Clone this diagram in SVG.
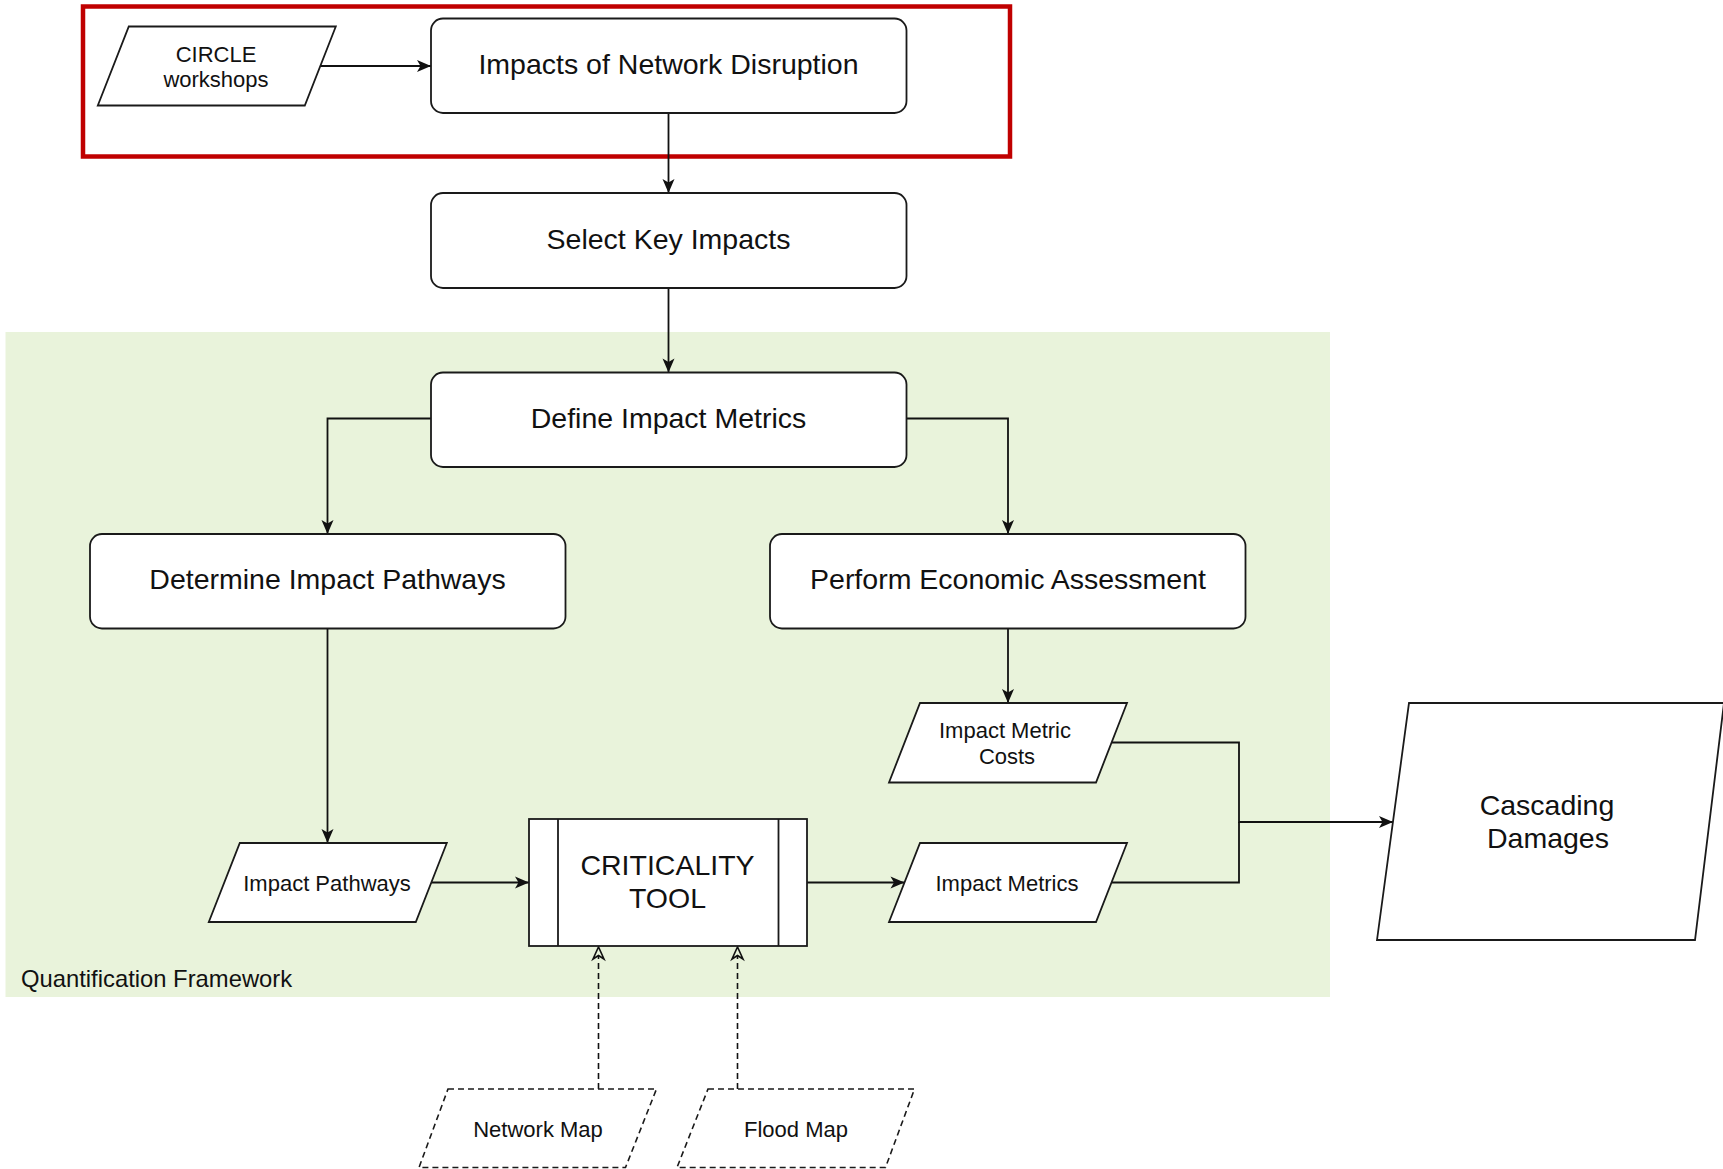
<svg xmlns="http://www.w3.org/2000/svg" width="1723" height="1169" viewBox="0 0 1723 1169">
<style>
.box{fill:#ffffff;stroke:#1a1a1a;stroke-width:1.8}
.dash{fill:#ffffff;stroke:#1a1a1a;stroke-width:1.6;stroke-dasharray:6 4}
.big{font-family:"Liberation Sans",Arial,sans-serif;font-size:28.5px;fill:#111111;text-anchor:middle}
.small{font-family:"Liberation Sans",Arial,sans-serif;font-size:22px;fill:#111111;text-anchor:middle}
.edge{fill:none;stroke:#111111;stroke-width:1.8}
.dedge{fill:none;stroke:#111111;stroke-width:1.6;stroke-dasharray:6 4}
</style>
<defs>
<marker id="arr" markerUnits="userSpaceOnUse" markerWidth="18" markerHeight="16" refX="14" refY="6" orient="auto" overflow="visible">
<path d="M0,0 L14,6 L0,12 L3.5,6 Z" fill="#111111" stroke="none"/>
</marker>
<marker id="open" markerUnits="userSpaceOnUse" markerWidth="16" markerHeight="14" refX="3.5" refY="5.5" orient="auto" overflow="visible">
<path d="M0,0 L12,5.5 L0,11 L3.5,5.5 Z" fill="none" stroke="#111111" stroke-width="1.6"/>
</marker>
</defs>
<rect x="0" y="0" width="1723" height="1169" fill="#ffffff"/>
<g id="quantification-framework">
<rect x="5.5" y="332" width="1324.5" height="665" fill="#e9f3db"/>
<text x="21" y="987" font-family="'Liberation Sans',Arial,sans-serif" font-size="23.8" fill="#111111">Quantification Framework</text>
</g>
<g id="highlight">
<rect x="83" y="6.5" width="927" height="150" fill="none" stroke="#c00000" stroke-width="4.5"/>
</g>
<g id="connectors">
<path class="edge" d="M320,66 H431" marker-end="url(#arr)"/>
<path class="edge" d="M668.5,113 V193" marker-end="url(#arr)"/>
<path class="edge" d="M668.5,288 V372.5" marker-end="url(#arr)"/>
<path class="edge" d="M431,418.5 H327.5 V534" marker-end="url(#arr)"/>
<path class="edge" d="M907,418.5 H1008 V534" marker-end="url(#arr)"/>
<path class="edge" d="M1008,628.5 V703" marker-end="url(#arr)"/>
<path class="edge" d="M327.5,628.5 V843" marker-end="url(#arr)"/>
<path class="edge" d="M431.3,882.5 H529" marker-end="url(#arr)"/>
<path class="edge" d="M807,882.5 H904.5" marker-end="url(#arr)"/>
<path class="edge" d="M1111.5,742.5 H1239 V822 H1393" marker-end="url(#arr)"/>
<path class="edge" d="M1111.5,882.5 H1239 V822"/>
<path class="dedge" d="M598.5,1089 V955.5" marker-end="url(#open)"/>
<path class="dedge" d="M737.5,1089 V955.5" marker-end="url(#open)"/>
</g>
<g id="circle-workshops">
<polygon class="box" points="128.8,26.5 335.8,26.5 304.8,105.5 97.8,105.5"/>
<text class="small" x="216" y="62">CIRCLE</text>
<text class="small" x="216" y="87">workshops</text>
</g>
<g id="impacts-network-disruption">
<rect class="box" x="431" y="18.5" width="475.5" height="94.5" rx="12"/>
<text class="big" x="668.5" y="73.5">Impacts of Network Disruption</text>
</g>
<g id="select-key-impacts">
<rect class="box" x="431" y="193" width="475.5" height="95" rx="12"/>
<text class="big" x="668.5" y="248.5">Select Key Impacts</text>
</g>
<g id="define-impact-metrics">
<rect class="box" x="431" y="372.5" width="475.5" height="94.5" rx="12"/>
<text class="big" x="668.5" y="427.5">Define Impact Metrics</text>
</g>
<g id="determine-impact-pathways">
<rect class="box" x="90" y="534" width="475.5" height="94.5" rx="12"/>
<text class="big" x="327.5" y="589">Determine Impact Pathways</text>
</g>
<g id="perform-economic-assessment">
<rect class="box" x="770" y="534" width="475.5" height="94.5" rx="12"/>
<text class="big" x="1008" y="589">Perform Economic Assessment</text>
</g>
<g id="impact-metric-costs">
<polygon class="box" points="920,703 1127,703 1096,782.5 889,782.5"/>
<text class="small" x="1005" y="738">Impact Metric</text>
<text class="small" x="1007" y="764">Costs</text>
</g>
<g id="impact-pathways">
<polygon class="box" points="239.8,843 446.8,843 415.8,922 208.8,922"/>
<text class="small" x="327" y="890.5">Impact Pathways</text>
</g>
<g id="criticality-tool">
<rect class="box" x="529" y="819" width="278" height="127"/>
<line x1="558" y1="819" x2="558" y2="946" stroke="#1a1a1a" stroke-width="1.8"/>
<line x1="778.5" y1="819" x2="778.5" y2="946" stroke="#1a1a1a" stroke-width="1.8"/>
<text class="big" x="667.5" y="875">CRITICALITY</text>
<text class="big" x="667.5" y="908">TOOL</text>
</g>
<g id="impact-metrics">
<polygon class="box" points="920,843 1127,843 1096,922 889,922"/>
<text class="small" x="1007" y="891">Impact Metrics</text>
</g>
<g id="cascading-damages">
<polygon class="box" points="1409,703 1724,703 1695,940 1377,940"/>
<text class="big" x="1547" y="815">Cascading</text>
<text class="big" x="1548" y="848">Damages</text>
</g>
<g id="network-map">
<polygon class="dash" points="448,1089 656.5,1089 625.5,1167.5 419,1167.5"/>
<text class="small" x="538" y="1137">Network Map</text>
</g>
<g id="flood-map">
<polygon class="dash" points="708,1089 914.5,1089 885.5,1167.5 677,1167.5"/>
<text class="small" x="796" y="1137">Flood Map</text>
</g>
</svg>
